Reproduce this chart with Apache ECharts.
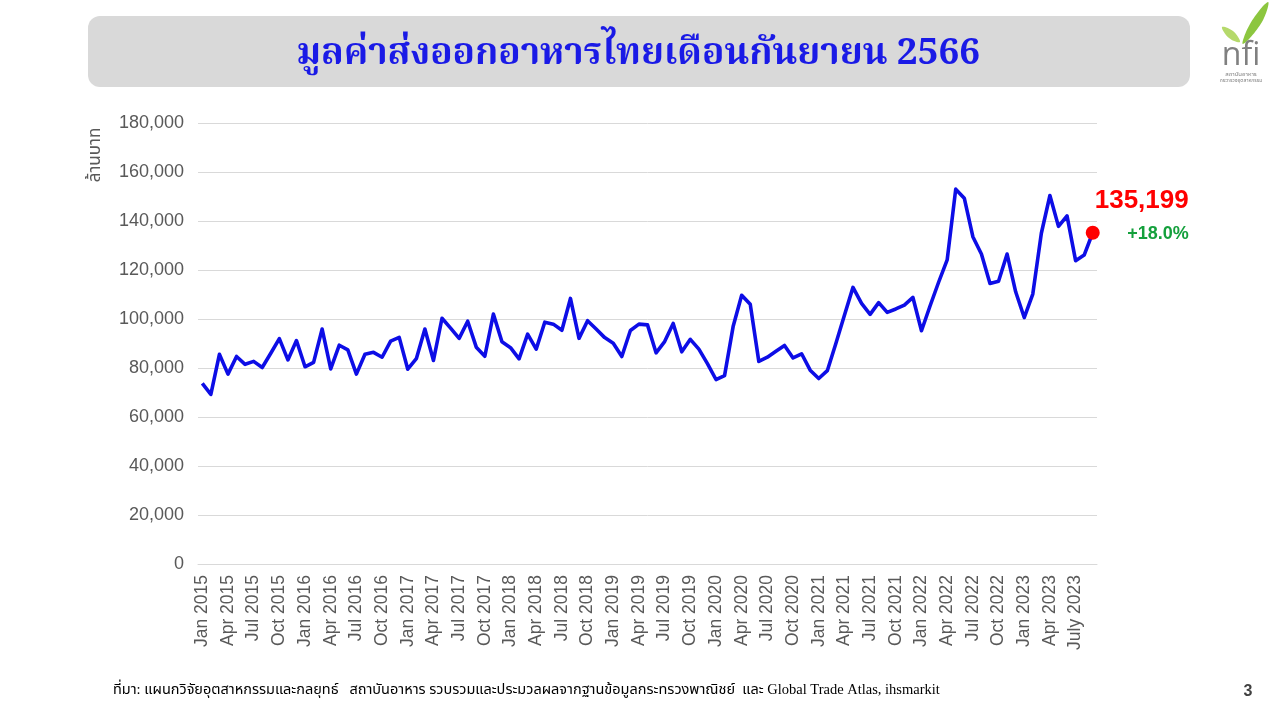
<!DOCTYPE html>
<html>
<head>
<meta charset="utf-8">
<script src="https://cdn.jsdelivr.net/npm/echarts@6/dist/echarts.min.js"></script>
<style>
html,body{margin:0;padding:0;background:#fff;}
#c{width:1280px;height:720px;}
</style>
</head>
<body>
<div id="c"></div>
<script>
// ---- data ----
const years = [2015, 2016, 2017, 2018, 2019, 2020, 2021, 2022, 2023];
const monthNames = ['Jan','Feb','Mar','Apr','May','Jun','Jul','Aug','Sep','Oct','Nov','Dec'];
const v2015 = [73700, 69200, 85600, 77500, 84700, 81500, 82700, 80200, 86000, 92000, 83300, 91200];
const v2016 = [80500, 82300, 95900, 79600, 89300, 87400, 77500, 85600, 86400, 84400, 91000, 92500];
const v2017 = [79500, 83800, 95900, 83100, 100300, 96300, 92100, 99100, 88500, 84800, 102000, 90700];
const v2018 = [88300, 83700, 93800, 87700, 98700, 97900, 95400, 108400, 92100, 99300, 95900, 92400];
const v2019 = [90100, 84700, 95300, 97900, 97600, 86200, 90800, 98200, 86600, 91700, 87700, 81800];
const v2020 = [75300, 76900, 96900, 109700, 106000, 82700, 84400, 86800, 89200, 84100, 85800, 79100];
const v2021 = [75700, 78900, 90000, 101500, 112900, 106400, 101900, 106700, 102700, 104100, 105700, 108800];
const v2022 = [95200, 105300, 115000, 124100, 153000, 149300, 133600, 126500, 114500, 115400, 126500, 111100];
const v2023 = [100600, 110200, 135000, 150400, 137800, 142100, 123800, 126100, 135199];
const yTicks = [0, 20000, 40000, 60000, 80000, 100000, 120000, 140000, 160000, 180000];
const lastLabel = '135,199';
const growthLabel = '+18.0%';
const titleText = 'มูลค่าส่งออกอาหารไทยเดือนกันยายน 2566';
const yName = 'ล้านบาท';
const sourceText = 'ที่มา: แผนกวิจัยอุตสาหกรรมและกลยุทธ์   สถาบันอาหาร รวบรวมและประมวลผลจากฐานข้อมูลกระทรวงพาณิชย์  และ Global Trade Atlas, ihsmarkit';

const values = [].concat(v2015, v2016, v2017, v2018, v2019, v2020, v2021, v2022, v2023);
const categories = [];
years.forEach(y => monthNames.forEach(m => { if (categories.length < values.length) categories.push(m + ' ' + y); }));
categories[categories.indexOf('Jul 2023')] = 'July 2023';
const lastIdx = values.length - 1;

const chart = echarts.init(document.getElementById('c'));
const thaiFont = '"Noto Sans Thai", "Noto Sans", "DejaVu Sans", sans-serif';

chart.setOption({
  backgroundColor: '#ffffff',
  animation: false,
  grid: { left: 198, right: 183, top: 123, bottom: 156 },
  xAxis: {
    type: 'category',
    data: categories,
    boundaryGap: true,
    axisLine: { show: true, lineStyle: { color: '#d9d9d9', width: 1 } },
    axisTick: { show: false },
    axisLabel: {
      interval: 2,
      rotate: 90,
      margin: 11,
      color: '#595959',
      fontSize: 17.5,
      fontFamily: 'Arial, "Liberation Sans", sans-serif'
    },
    splitLine: { show: false }
  },
  yAxis: {
    type: 'value',
    min: yTicks[0],
    max: yTicks[yTicks.length - 1],
    interval: yTicks[1] - yTicks[0],
    axisLine: { show: false },
    axisTick: { show: false },
    axisLabel: {
      margin: 14,
      color: '#595959',
      fontSize: 18,
      fontFamily: 'Arial, "Liberation Sans", sans-serif',
      formatter: v => v.toLocaleString('en-US')
    },
    splitLine: { lineStyle: { color: '#d9d9d9', width: 1 } }
  },
  series: [
    {
      type: 'line',
      data: values,
      showSymbol: false,
      symbol: 'none',
      lineStyle: { color: '#0d0de6', width: 3.6, join: 'round' },
      z: 2
    },
    {
      type: 'scatter',
      data: [[lastIdx, values[lastIdx]]],
      symbol: 'circle',
      symbolSize: 14,
      itemStyle: { color: '#ff0000', opacity: 1 },
      z: 3,
      label: {
        show: true,
        opacity: 1,
        position: [103, -40],
        align: 'right',
        verticalAlign: 'top',
        formatter: '{a|' + lastLabel + '}\n{b|' + growthLabel + '}',
        rich: {
          a: { color: '#ff0000', fontSize: 26, fontWeight: 'bold', fontFamily: 'Arial, "Liberation Sans", sans-serif', lineHeight: 30, align: 'right' },
          b: { color: '#14a03c', fontSize: 18, fontWeight: 'bold', fontFamily: 'Arial, "Liberation Sans", sans-serif', lineHeight: 36, align: 'right' }
        }
      }
    }
  ],
  graphic: [
    { type: 'rect', shape: { x: 88, y: 16, width: 1102, height: 71, r: 12 }, style: { fill: '#d9d9d9' }, z: -1 },
    { type: 'text', x: 638, y: 58, style: { text: titleText, fill: '#1a1ae6', font: 'bold 37px "Noto Serif Thai", "Noto Sans Thai", "Liberation Serif", serif', textAlign: 'center', textVerticalAlign: 'middle' } },
    { type: 'text', x: 97, y: 155, rotation: Math.PI / 2, style: { text: yName, fill: '#595959', font: '17px ' + thaiFont, textAlign: 'center', textVerticalAlign: 'middle' } },
    { type: 'text', x: 113, y: 690, style: { text: sourceText, fill: '#000000', font: '14.5px "Liberation Serif", ' + thaiFont, textAlign: 'left', textVerticalAlign: 'middle' } },
    { type: 'text', x: 1248, y: 692, style: { text: '3', fill: '#404040', font: 'bold 16px Arial, "Liberation Sans", sans-serif', textAlign: 'center', textVerticalAlign: 'middle' } },
    // logo
    { type: 'polygon', shape: { points: [[1243, 44], [1250, 24], [1268, 2], [1262, 22]], smooth: 0.4 }, style: { fill: '#8cc63f' } },
    { type: 'polygon', shape: { points: [[1240, 42], [1233, 31], [1222, 27], [1229, 38]], smooth: 0.4 }, style: { fill: '#b5d96b' } },
    { type: 'text', x: 1241, y: 56, style: { text: 'nfi', fill: '#808080', font: '32px "Open Sans", "Noto Sans", sans-serif', textAlign: 'center', textVerticalAlign: 'middle' } },
    { type: 'text', x: 1241, y: 75, style: { text: 'สถาบันอาหาร', fill: '#808080', font: '6px ' + thaiFont, textAlign: 'center', textVerticalAlign: 'middle' } },
    { type: 'text', x: 1241, y: 81, style: { text: 'กระทรวงอุตสาหกรรม', fill: '#808080', font: '5px ' + thaiFont, textAlign: 'center', textVerticalAlign: 'middle' } }
  ]
});
</script>
</body>
</html>
